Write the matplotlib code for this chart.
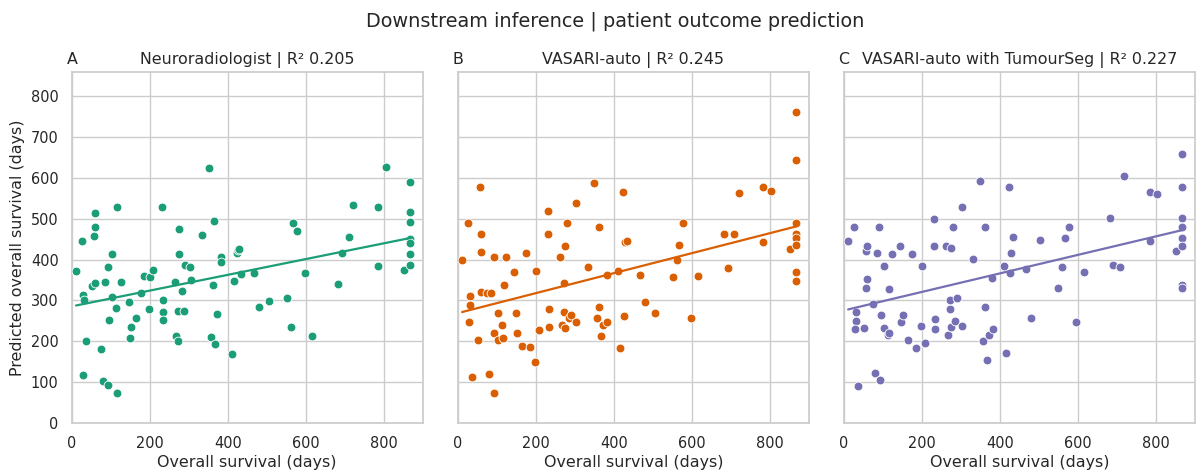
import numpy as np
import matplotlib
matplotlib.use("Agg")
import matplotlib.pyplot as plt
import seaborn as sns

# overall survival (days) vs predicted overall survival (days)
neuro_x = [11, 26, 29, 32, 37, 30, 53, 59, 56, 59, 60, 75, 80, 86, 93, 95, 93, 103, 104, 114,
           117, 117, 125, 146, 149, 153, 165, 177, 185, 201, 208, 199, 232, 233, 233, 235, 264, 268,
           273, 273, 287, 276, 276, 282, 291, 304, 305, 334, 351, 356, 362, 364, 368, 373, 383, 383,
           412, 416, 425, 427, 430, 435, 468, 480, 505, 551, 561, 568, 578, 598, 616, 683, 693, 710,
           721, 785, 786, 805, 852, 868, 868, 868, 868, 868, 868, 868]
neuro_y = [372, 446, 313, 302, 200, 117, 335, 342, 457, 479, 515, 180, 103, 345, 381, 251, 92, 413,
           309, 281, 528, 72, 344, 295, 209, 236, 258, 317, 359, 358, 375, 278, 528, 300, 271, 251,
           346, 212, 200, 273, 274, 476, 414, 322, 387, 382, 350, 460, 624, 210, 338, 494, 193, 267,
           407, 394, 168, 348, 416, 423, 427, 365, 367, 284, 299, 306, 236, 490, 471, 368, 212, 340,
           416, 456, 534, 528, 384, 628, 375, 589, 516, 493, 450, 440, 413, 388]

auto_x = [11, 26, 31, 32, 28, 36, 53, 56, 59, 59, 59, 74, 85, 79, 92, 93, 92, 103, 104, 113, 116,
          118, 124, 145, 148, 152, 164, 176, 184, 198, 200, 207, 231, 232, 233, 233, 263, 266, 273,
          273, 275, 275, 281, 286, 291, 303, 304, 334, 349, 356, 363, 362, 368, 373, 383, 383, 411,
          416, 424, 426, 429, 434, 468, 480, 505, 551, 561, 566, 578, 597, 615, 683, 693, 709, 720,
          783, 783, 804, 851, 868, 868, 868, 868, 868, 868, 868, 868]
auto_y = [399, 489, 311, 289, 246, 112, 202, 579, 464, 418, 320, 317, 317, 120, 406, 221, 74, 270,
          202, 240, 208, 339, 407, 370, 268, 221, 188, 416, 185, 148, 372, 227, 519, 464, 278, 236,
          406, 240, 343, 272, 433, 233, 489, 258, 264, 248, 539, 383, 588, 258, 285, 481, 213, 239,
          246, 362, 372, 183, 565, 262, 443, 445, 362, 295, 268, 357, 398, 436, 489, 258, 361, 463,
          380, 463, 563, 577, 443, 569, 426, 762, 645, 489, 464, 452, 436, 369, 348]

seg_x = [11, 25, 31, 31, 28, 37, 51, 58, 59, 60, 56, 74, 79, 85, 91, 92, 94, 103, 103, 113, 115,
         117, 124, 144, 147, 152, 164, 176, 184, 198, 200, 208, 231, 231, 233, 233, 262, 266, 272,
         273, 275, 275, 281, 285, 290, 303, 304, 332, 349, 356, 362, 361, 367, 372, 382, 381, 411,
         416, 424, 426, 429, 434, 468, 479, 503, 550, 560, 566, 577, 596, 615, 682, 691, 709, 719,
         784, 784, 804, 851, 868, 868, 868, 868, 868, 868, 868, 868]
seg_y = [446, 481, 271, 250, 230, 91, 233, 422, 434, 353, 331, 292, 123, 417, 481, 105, 264, 384,
         233, 216, 221, 328, 413, 434, 247, 264, 203, 413, 184, 238, 385, 195, 499, 434, 254, 231,
         434, 216, 279, 301, 235, 429, 481, 249, 306, 238, 530, 401, 592, 200, 284, 481, 154, 216,
         230, 356, 385, 172, 579, 366, 417, 455, 378, 257, 449, 331, 381, 452, 481, 248, 370, 501,
         387, 383, 604, 565, 446, 561, 422, 659, 578, 501, 481, 452, 434, 338, 331]

panels = [
    ("A", "Neuroradiologist | R² 0.205", neuro_x, neuro_y, "#1b9e77"),
    ("B", "VASARI-auto | R² 0.245", auto_x, auto_y, "#d95f02"),
    ("C", "VASARI-auto with TumourSeg | R² 0.227", seg_x, seg_y, "#7570b3"),
]

sns.set_theme(style="whitegrid")
plt.rcParams["font.family"] = ["DejaVu Sans"]

fig, axes = plt.subplots(1, 3, figsize=(11.96, 4.73), dpi=100, sharey=True)
fig.subplots_adjust(left=0.06, right=0.999, bottom=0.106, top=0.848, wspace=0.1)

for ax, (letter, title, xs, ys, col) in zip(axes, panels):
    xs = np.array(xs)
    ys = np.array(ys)
    ax.scatter(xs, ys, s=40, color=col, edgecolor="white", linewidth=0.6, zorder=3)
    k, b = np.polyfit(xs, ys, 1)
    xl = np.array([xs.min(), xs.max()])
    ax.plot(xl, k * xl + b, color=col, lw=1.6, zorder=4)
    ax.set_title(title, fontsize=11.4)
    ax.set_title(letter, loc="left", fontsize=11.4, x=-0.015)
    ax.set_xlabel("Overall survival (days)", fontsize=11.4, labelpad=3)
    ax.set_xlim(0, 900)
    ax.set_ylim(0, 860)
    ax.set_xticks([0, 200, 400, 600, 800])
    ax.set_yticks(range(0, 900, 100))
    ax.tick_params(labelsize=10.45)

axes[0].set_ylabel("Predicted overall survival (days)", fontsize=11.4)
fig.suptitle("Downstream inference | patient outcome prediction", fontsize=13.9, x=0.514, y=0.975)

fig.savefig("out.png", dpi=100)
